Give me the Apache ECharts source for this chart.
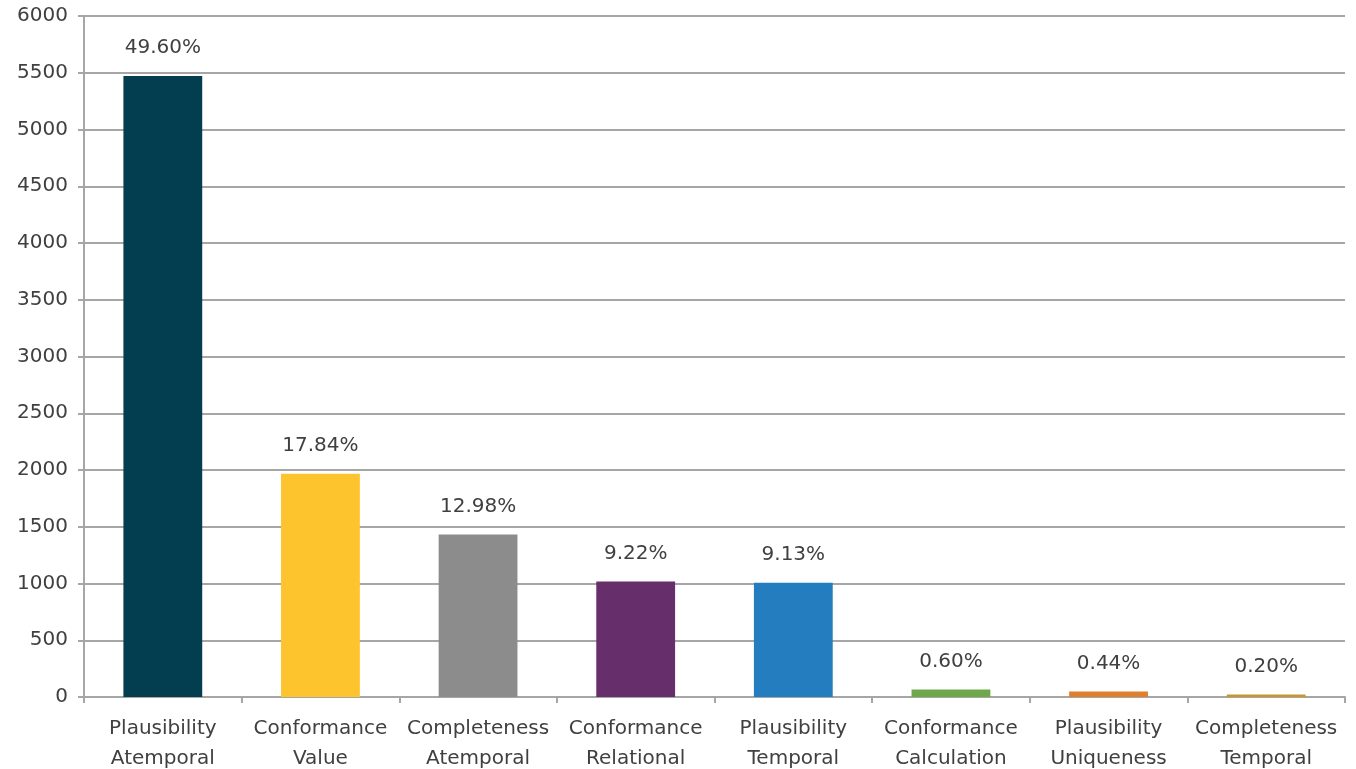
<!DOCTYPE html>
<html><head><meta charset="utf-8">
<script src="https://cdn.jsdelivr.net/npm/echarts@6/dist/echarts.min.js"></script>
<style>html,body{margin:0;padding:0;background:#fff}#c{width:1356px;height:769px}</style>
</head><body><div id="c"></div>
<script>
var categories = ['Plausibility\nAtemporal','Conformance\nValue','Completeness\nAtemporal','Conformance\nRelational','Plausibility\nTemporal','Conformance\nCalculation','Plausibility\nUniqueness','Completeness\nTemporal'];
var values = [5471, 1968, 1432, 1017, 1007, 66, 49, 22];
var pctLabels = ['49.60%','17.84%','12.98%','9.22%','9.13%','0.60%','0.44%','0.20%'];
var colors = ['#033E50','#FDC42E','#8C8C8C','#662E6B','#237DBF','#6FA84B','#E07E30','#C9962E'];

var chart = echarts.init(document.getElementById('c'));
var FONT = 'DejaVu Sans';
chart.setOption({
  animation:false,
  grid:{left:84,right:11,top:16,bottom:72,containLabel:false,outerBoundsMode:'none'},
  xAxis:{type:'category',data:categories,
    axisLine:{lineStyle:{color:'#A6A6A6',width:2}},
    axisTick:{show:true,length:6,lineStyle:{color:'#A6A6A6',width:2}},
    axisLabel:{color:'#404040',fontSize:20,fontFamily:FONT,lineHeight:30,margin:17,interval:0}},
  yAxis:{type:'value',min:0,max:6000,interval:500,
    axisLine:{show:true,lineStyle:{color:'#A6A6A6',width:2}},
    axisTick:{show:true,length:6,lineStyle:{color:'#A6A6A6',width:2}},
    splitLine:{lineStyle:{color:'#A6A6A6',width:2}},
    axisLabel:{color:'#404040',fontSize:20,fontFamily:FONT,margin:16,formatter:function(v){return String(v);}}},
  series:[{type:'bar',barWidth:'50%',
    data:values.map(function(v,i){return {value:v,itemStyle:{color:colors[i]},label:{formatter:pctLabels[i]}};}),
    label:{show:true,position:'top',distance:18,color:'#404040',fontSize:20,fontFamily:FONT}}]
});
</script></body></html>
